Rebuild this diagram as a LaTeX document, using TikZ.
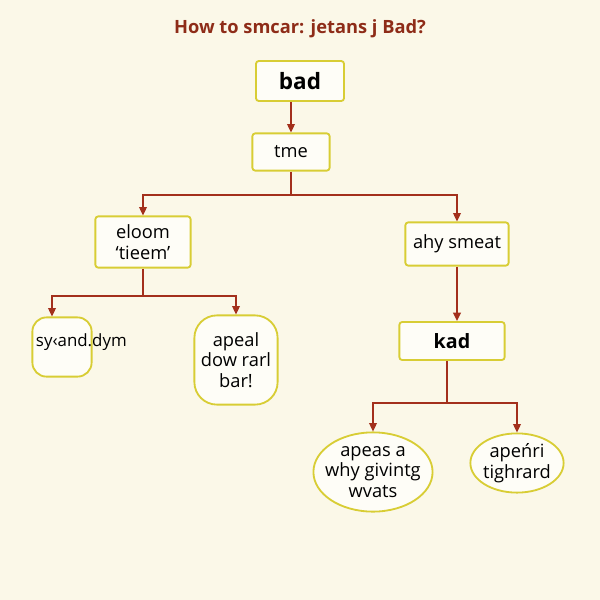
\documentclass[tikz,border=0pt]{standalone}
\usepackage{fontspec}
\setmainfont{Open Sans}
\usetikzlibrary{arrows.meta,positioning,shapes.geometric}
\definecolor{paper}{HTML}{FBF8E8}
\definecolor{hilite}{HTML}{D8CD35}
\definecolor{wire}{HTML}{A3301C}
\definecolor{headred}{HTML}{8E2C18}

\begin{document}
\begin{tikzpicture}[
  x=0.025cm, y=-0.025cm,
  font=\fontsize{13}{14.5}\selectfont,
  box/.style={draw=hilite, fill=white!65!paper, line width=1.3pt, rounded corners=2pt, align=center, inner sep=0pt},
  blob/.style={box, rounded corners=10pt},
  oval/.style={box, ellipse, inner sep=-4pt},
  link/.style={draw=wire, line width=1pt},
  arr/.style={link, -{Triangle[length=6pt,width=5.5pt]}}
]
\fill[paper] (0,0) rectangle (600,600);

\node[font=\fontsize{13}{15}\selectfont\bfseries, text=headred] (title) at (300,29) {How to smcar: jetans j Bad?};

\node[box, minimum width=2.2cm, minimum height=1.0cm, font=\fontsize{16}{18}\selectfont\bfseries] (bad) at (300,81) {bad};
\node[box, minimum width=1.93cm, minimum height=0.93cm] (tme) at (291,152) {tme};

\node[box, minimum width=2.38cm, minimum height=1.28cm] (eloom) at (143,242) {eloom\\‘tieem’};
\node[box, minimum width=2.58cm, minimum height=1.08cm] (ahy) at (457,244) {ahy smeat};

\node[blob, minimum width=1.48cm, minimum height=1.48cm] (syand) at (62,347) {};
\node[anchor=west, font=\fontsize{12}{14}\selectfont] (syandtext) at (31,342) {sy‹and.dym};
\node[blob, rounded corners=16pt, minimum width=2.08cm, minimum height=2.23cm] (apeal) at (236,360) {apeal\\dow rarl\\bar!};

\node[box, minimum width=2.63cm, minimum height=0.95cm, font=\fontsize{14}{16}\selectfont\bfseries] (kad) at (452,341) {kad};
\node[oval, minimum width=2.63cm, minimum height=1.98cm] (apeas) at (373,472) {apeas a\\why givintg\\wvats};
\node[oval, minimum width=2.33cm, minimum height=1.48cm] (apenri) at (517,463) {apeńri\\tighrard};

\coordinate (forkA) at (291,195);
\coordinate (forkB) at (143,296);
\coordinate (forkC) at (447,403);

\draw[arr] (bad.south -| tme.north) -- (tme.north);
\draw[link] (tme.south) -- (forkA);
\draw[arr] (forkA) -| (eloom.north);
\draw[arr] (forkA) -| (ahy.north);
\draw[link] (eloom.south) -- (forkB);
\draw[arr] (forkB) -| ([xshift=-0.25cm]syand.north);
\draw[arr] (forkB) -| (apeal.north);
\draw[arr] (ahy.south) -- (ahy.south |- kad.north);
\draw[link] (kad.south -| forkC) -- (forkC);
\draw[arr] (forkC) -| (apeas.north);
\draw[arr] (forkC) -| (apenri.north);
\end{tikzpicture}
\end{document}
